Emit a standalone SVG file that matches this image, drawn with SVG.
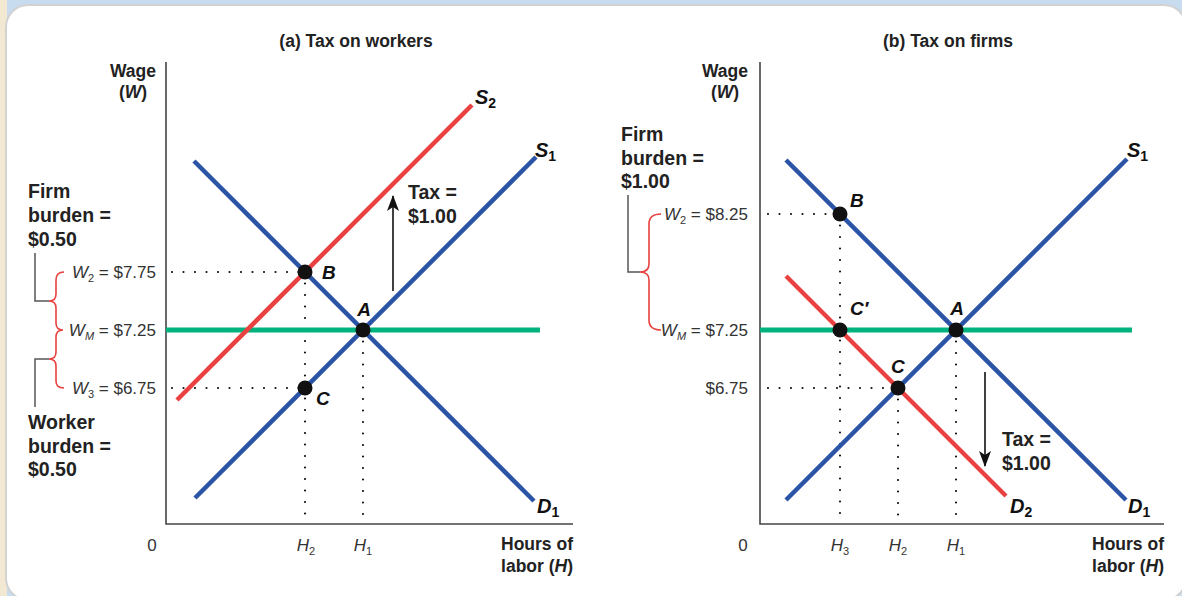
<svg xmlns="http://www.w3.org/2000/svg" width="1182" height="596" viewBox="0 0 1182 596">
<defs>
<style>
text{font-family:"Liberation Sans",Arial,sans-serif}
.title{font-size:17.5px;font-weight:bold;fill:#222;text-anchor:middle}
.ax{font-size:17.5px;font-weight:bold;fill:#222}
.lab{font-size:17px;fill:#333}
.burden{font-size:19.5px;font-weight:bold;fill:#222}
.curve{font-size:20px;font-weight:bold;font-style:italic;fill:#111}
.pt{font-size:19px;font-weight:bold;font-style:italic;fill:#111}
.blue{stroke:#2b54a6;stroke-width:4.5;fill:none}
.red{stroke:#e8413f;stroke-width:4.5;fill:none}
.green{stroke:#00b27e;stroke-width:5;fill:none}
.dot{stroke:#111;stroke-width:2.2;stroke-dasharray:0 11.5;stroke-linecap:round;fill:none}
.axis{stroke:#444;stroke-width:1.6;fill:none}
.brace{stroke:#e8413f;stroke-width:1.6;fill:none}
.bracket{stroke:#555;stroke-width:1.5;fill:none}
.arrow{stroke:#111;stroke-width:1.6;fill:none}
</style>
<marker id="ah" viewBox="0 0 16 12" refX="15" refY="6" markerWidth="16" markerHeight="12" markerUnits="userSpaceOnUse" orient="auto">
<path d="M0,0 L16,6 L0,12 L4,6 Z" fill="#111"/>
</marker>
</defs>
<rect x="0" y="0" width="1182" height="596" fill="#c8dcf0"/>
<rect x="0" y="0" width="7" height="596" fill="#f3e8d2"/>
<rect x="6" y="5" width="1180" height="595" rx="22" fill="#ffffff" stroke="#d2d2d2" stroke-width="2"/>

<g id="panel-a">
<text class="title" x="356" y="47">(a) Tax on workers</text>
<text class="ax" x="133" y="77" text-anchor="middle">Wage</text>
<text class="ax" x="133" y="98" text-anchor="middle">(<tspan font-style="italic">W</tspan>)</text>
<path class="axis" d="M166,62 L166,524 L573,524"/>
<text class="lab" x="152" y="551" text-anchor="middle">0</text>
<text class="lab" x="306" y="551" text-anchor="middle"><tspan font-style="italic">H</tspan><tspan font-size="11" dy="4">2</tspan></text>
<text class="lab" x="363" y="551" text-anchor="middle"><tspan font-style="italic">H</tspan><tspan font-size="11" dy="4">1</tspan></text>
<text class="ax" x="573" y="550" text-anchor="end">Hours of</text>
<text class="ax" x="573" y="572" text-anchor="end">labor (<tspan font-style="italic">H</tspan>)</text>
</g>

<g id="panel-b">
<text class="title" x="948" y="47">(b) Tax on firms</text>
<text class="ax" x="725" y="77" text-anchor="middle">Wage</text>
<text class="ax" x="725" y="98" text-anchor="middle">(<tspan font-style="italic">W</tspan>)</text>
<path class="axis" d="M760,62 L760,524 L1164,524"/>
<text class="lab" x="743" y="551" text-anchor="middle">0</text>
<text class="lab" x="840" y="551" text-anchor="middle"><tspan font-style="italic">H</tspan><tspan font-size="11" dy="4">3</tspan></text>
<text class="lab" x="898" y="551" text-anchor="middle"><tspan font-style="italic">H</tspan><tspan font-size="11" dy="4">2</tspan></text>
<text class="lab" x="956" y="551" text-anchor="middle"><tspan font-style="italic">H</tspan><tspan font-size="11" dy="4">1</tspan></text>
<text class="ax" x="1164" y="550" text-anchor="end">Hours of</text>
<text class="ax" x="1164" y="572" text-anchor="end">labor (<tspan font-style="italic">H</tspan>)</text>
</g>

<g id="connectors">
<path class="dot" d="M172,272 L305,272 M172,388 L305,388 M305,272 L305,524 M363,330 L363,524"/>
<path class="dot" d="M768,214 L840,214 M768,388 L898,388 M840,214 L840,524 M898,388 L898,524 M956,330 L956,524"/>
<line class="green" x1="166" y1="330" x2="540" y2="330"/>
<line class="red" x1="177" y1="400" x2="472" y2="105"/>
<line class="blue" x1="194" y1="161" x2="534" y2="501"/>
<line class="blue" x1="195" y1="498" x2="536" y2="157"/>
<line class="arrow" x1="393" y1="291" x2="393" y2="196" marker-end="url(#ah)"/>
<line class="green" x1="760" y1="330" x2="1132" y2="330"/>
<line class="blue" x1="786" y1="160" x2="1126" y2="500"/>
<line class="blue" x1="786" y1="500" x2="1127" y2="159"/>
<line class="red" x1="786" y1="276" x2="1006" y2="496"/>
<line class="arrow" x1="985" y1="372" x2="985" y2="466" marker-end="url(#ah)"/>
</g>

<g id="labels-a">
<text class="curve" x="475" y="104">S<tspan font-size="14" font-style="normal" dy="4">2</tspan></text>
<text class="curve" x="535" y="157">S<tspan font-size="14" font-style="normal" dy="4">1</tspan></text>
<text class="curve" x="537" y="513">D<tspan font-size="14" font-style="normal" dy="4">1</tspan></text>
<text class="burden" x="408" y="199">Tax =</text>
<text class="burden" x="408" y="223">$1.00</text>
</g>

<g id="point-A-a"><circle cx="363" cy="330" r="7.5" fill="#111"/><text class="pt" x="364" y="316" text-anchor="middle">A</text></g>
<g id="point-B-a"><circle cx="305" cy="272" r="7.5" fill="#111"/><text class="pt" x="322" y="279">B</text></g>
<g id="point-C-a"><circle cx="305" cy="388" r="7.5" fill="#111"/><text class="pt" x="316" y="405">C</text></g>

<g id="yaxis-a">
<text class="lab" x="156" y="278" text-anchor="end"><tspan font-style="italic">W</tspan><tspan font-size="11" dy="4">2</tspan><tspan dy="-4"> = $7.75</tspan></text>
<text class="lab" x="156" y="336" text-anchor="end"><tspan font-style="italic">W</tspan><tspan font-size="11" font-style="italic" dy="4">M</tspan><tspan dy="-4"> = $7.25</tspan></text>
<text class="lab" x="156" y="394" text-anchor="end"><tspan font-style="italic">W</tspan><tspan font-size="11" dy="4">3</tspan><tspan dy="-4"> = $6.75</tspan></text>
<path class="brace" d="M64,272 Q56,272 56,280 L56,294 Q56,301 49,301 Q56,301 56,308 L56,323 Q56,330 63,330 Q56,330 56,337 L56,352 Q56,359 49,359 Q56,359 56,366 L56,381 Q56,388 64,388"/>
<path class="bracket" d="M35,253 L35,301 L49,301 M49,359 L35,359 L35,407"/>
</g>
<g id="firm-burden-a">
<text class="burden" x="28" y="198">Firm</text>
<text class="burden" x="28" y="222">burden =</text>
<text class="burden" x="28" y="246">$0.50</text>
</g>
<g id="worker-burden-a">
<text class="burden" x="28" y="429">Worker</text>
<text class="burden" x="28" y="453">burden =</text>
<text class="burden" x="28" y="476">$0.50</text>
</g>

<g id="labels-b">
<text class="curve" x="1127" y="157">S<tspan font-size="14" font-style="normal" dy="4">1</tspan></text>
<text class="curve" x="1128" y="513">D<tspan font-size="14" font-style="normal" dy="4">1</tspan></text>
<text class="curve" x="1010" y="513">D<tspan font-size="14" font-style="normal" dy="4">2</tspan></text>
<text class="burden" x="1002" y="446">Tax =</text>
<text class="burden" x="1002" y="470">$1.00</text>
</g>

<g id="point-A-b"><circle cx="956" cy="330" r="7.5" fill="#111"/><text class="pt" x="957" y="315" text-anchor="middle">A</text></g>
<g id="point-B-b"><circle cx="840" cy="214" r="7.5" fill="#111"/><text class="pt" x="850" y="207">B</text></g>
<g id="point-Cp-b"><circle cx="840" cy="330" r="7.5" fill="#111"/><text class="pt" x="850" y="315">C′</text></g>
<g id="point-C-b"><circle cx="898" cy="388" r="7.5" fill="#111"/><text class="pt" x="891" y="373">C</text></g>

<g id="yaxis-b">
<text class="lab" x="748" y="220" text-anchor="end"><tspan font-style="italic">W</tspan><tspan font-size="11" dy="4">2</tspan><tspan dy="-4"> = $8.25</tspan></text>
<text class="lab" x="748" y="336" text-anchor="end"><tspan font-style="italic">W</tspan><tspan font-size="11" font-style="italic" dy="4">M</tspan><tspan dy="-4"> = $7.25</tspan></text>
<text class="lab" x="748" y="394" text-anchor="end">$6.75</text>
<path class="brace" d="M661,214 Q649,214 649,224 L649,264 Q649,272 640,272 Q649,272 649,280 L649,320 Q649,330 661,330"/>
<path class="bracket" d="M628,195 L628,272 L640,272"/>
</g>
<g id="firm-burden-b">
<text class="burden" x="621" y="141">Firm</text>
<text class="burden" x="621" y="165">burden =</text>
<text class="burden" x="621" y="188">$1.00</text>
</g>
</svg>
